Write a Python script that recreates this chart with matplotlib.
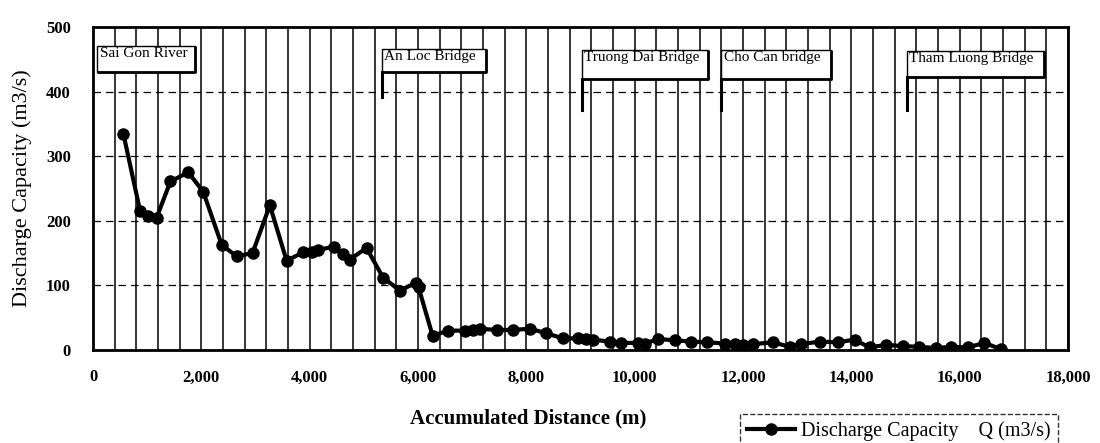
import matplotlib
matplotlib.use("Agg")
import matplotlib.pyplot as plt
from matplotlib.ticker import MultipleLocator
from matplotlib.patches import Rectangle

# ---- data ----
distance_m = [560, 870, 1020, 1175, 1430, 1760, 2035, 2375, 2650, 2945,
              3265, 3575, 3870, 4035, 4160, 4445, 4620, 4740, 5050, 5355,
              5665, 5960, 6010, 6270, 6560, 6860, 7020, 7140, 7450, 7760,
              8060, 8370, 8670, 8950, 9110, 9230, 9540, 9755, 10060, 10185,
              10430, 10750, 11046, 11340, 11660, 11845, 12000, 12183, 12552, 12860,
              13076, 13413, 13751, 14059, 14336, 14644, 14950, 15240, 15566, 15843,
              16149, 16458, 16770]
discharge = [335, 215, 208, 205, 261, 275, 245, 163, 145, 150,
             224, 138, 151, 152, 155, 160, 148, 140, 158, 112,
             92, 104, 97, 22, 30, 30, 31, 33, 31, 31,
             33, 26, 18, 18, 17, 16, 13, 11, 11, 10,
             17, 15, 13, 12, 10, 9, 8, 9, 12, 5,
             9, 13, 12, 16, 4, 8, 6, 5, 3, 5,
             4, 11, 1]

bridge_labels = ["Sai Gon River", "An Loc Bridge", "Truong Dai Bridge",
                 "Cho Can bridge", "Tham Luong Bridge"]
# box extents (x0, x1, y0, y1) in data units and leader-line bottom (None = no leader)
bridge_boxes = [(75, 1880, 430, 471), (5330, 7250, 430, 466),
                (9020, 11350, 419, 465), (11600, 13630, 419, 465),
                (15020, 17550, 423, 463)]
leader_bottom = [None, 391, 371, 371, 371]

xticks = [0, 2000, 4000, 6000, 8000, 10000, 12000, 14000, 16000, 18000]
xtick_labels = ["0", "2,000", "4,000", "6,000", "8,000", "10,000", "12,000",
                "14,000", "16,000", "18,000"]
yticks = [0, 100, 200, 300, 400, 500]
ytick_labels = ["0", "100", "200", "300", "400", "500"]

serif = "Liberation Serif"

fig = plt.figure(figsize=(11, 4.43), dpi=100)
ax = fig.add_axes([93/1100, 1-350/443, (1068-93)/1100, (350-27)/443])

ax.set_xlim(0, 18000)
ax.set_ylim(0, 500)
ax.set_xticks(xticks, labels=xtick_labels, fontfamily=serif,
              fontweight='bold', fontsize=12)
ax.set_yticks(yticks, labels=ytick_labels, fontfamily=serif,
              fontweight='bold', fontsize=12)
ax.xaxis.set_minor_locator(MultipleLocator(400))
ax.tick_params(axis='both', which='both', length=0)
ax.tick_params(axis='x', pad=14)
ax.tick_params(axis='y', pad=16)

ax.grid(axis='x', which='both', color='black', lw=1.1, zorder=0)
for yv in [100, 200, 300, 400]:
    ax.axhline(yv, color='black', lw=0.9, ls=(0, (6, 4)), zorder=0)

for s in ax.spines.values():
    s.set_linewidth(2)
    s.set_color('black')

ax.plot(distance_m, discharge, color='black', lw=3, marker='o', ms=8,
        label="Discharge Capacity    Q (m3/s)", zorder=5)

# bridge callout boxes
for lab, (x0, x1, y0, y1), lb in zip(bridge_labels, bridge_boxes, leader_bottom):
    ax.add_patch(Rectangle((x0, y0), x1 - x0, y1 - y0, facecolor='white',
                           edgecolor='black', lw=1.0, zorder=6))
    ax.plot([x1, x1, x0], [y1, y0, y0], color='black', lw=2.0, zorder=7,
            solid_capstyle='butt')
    if lb is not None:
        ax.plot([x0, x0], [y0, lb], color='black', lw=2.2, zorder=7)
    ax.text(x0 + 50, y1 - 2, lab, ha='left', va='top', fontfamily=serif,
            fontsize=11, zorder=8)

ax.set_ylabel("Discharge Capacity (m3/s)", fontfamily=serif, fontsize=16,
              labelpad=10)
fig.text(528/1100, 1-418/443, "Accumulated Distance (m)", ha='center',
         va='center', fontfamily=serif, fontsize=15, fontweight='semibold')

leg = fig.legend(loc='upper left', bbox_to_anchor=(730/1100, 1-404/443),
                 prop={'family': serif, 'size': 14.5}, handlelength=2.4,
                 handletextpad=0.3, frameon=True, fancybox=False,
                 borderpad=0.35)
fr = leg.get_frame()
fr.set_edgecolor('black')
fr.set_linestyle('--')
fr.set_linewidth(1.0)

fig.savefig("out.png", dpi=100)
